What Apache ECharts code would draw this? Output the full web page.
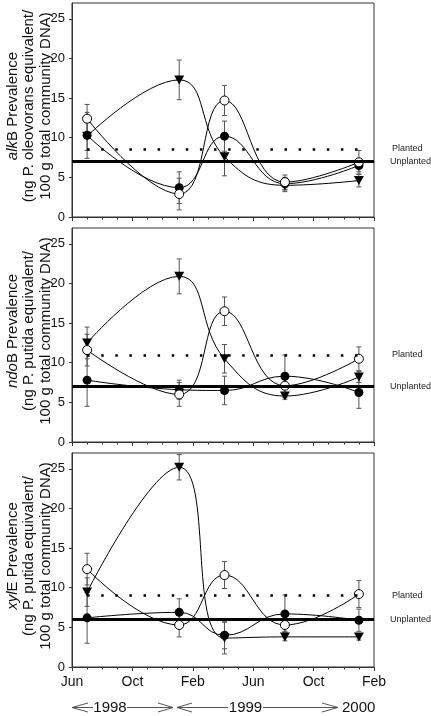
<!DOCTYPE html>
<html>
<head>
<meta charset="utf-8">
<script src="https://cdn.jsdelivr.net/npm/echarts@6/dist/echarts.min.js"></script>
<style>html,body{margin:0;padding:0;background:#fff}#c{width:431px;height:716px}</style>
</head>
<body>
<div id="c"></div>
<script>
// x positions: months since June 1998
const months = [1.0, 7.1, 10.1, 14.1, 19.0];
const xTickLabels = ['Jun', 'Oct', 'Feb', 'Jun', 'Oct', 'Feb'];
const yTickValues = [0, 5, 10, 15, 20, 25];

// Panel 1: alkB
const alkOpen = [12.4, 2.9, 14.7, 4.4, 6.9];
const alkOpenErr = [1.8, 2.0, 1.9, 0.9, 1.5];
const alkFilled = [10.3, 3.7, 10.2, 4.2, 6.5];
const alkFilledErr = [2.9, 2.0, 1.9, 0.8, 0.8];
const alkTri = [10.2, 17.3, 7.6, 4.0, 4.6];
const alkTriErr = [1.8, 2.5, 2.4, 0.8, 0.8];
const alkPlanted = 8.6, alkUnplanted = 7.0;

// Panel 2: ndoB
const ndoOpen = [11.6, 6.0, 16.5, 7.1, 10.5];
const ndoOpenErr = [2.0, 1.5, 1.8, 1.0, 1.5];
const ndoFilled = [7.8, 6.6, 6.5, 8.3, 6.25];
const ndoFilledErr = [3.3, 1.2, 1.8, 2.7, 2.0];
const ndoTri = [12.5, 20.9, 10.5, 5.8, 8.2];
const ndoTriErr = [2.0, 2.2, 1.8, 0.4, 0.7];
const ndoPlanted = 11.0, ndoUnplanted = 7.0;

// Panel 3: xylE
const xylOpen = [12.35, 5.3, 11.6, 5.3, 9.2];
const xylOpenErr = [2.0, 1.5, 1.7, 0.8, 1.7];
const xylFilled = [6.2, 6.9, 4.0, 6.7, 5.9];
const xylFilledErr = [3.2, 1.7, 1.7, 2.4, 1.4];
const xylTri = [9.45, 25.2, 3.65, 3.8, 3.8];
const xylTriErr = [1.8, 1.6, 2.0, 0.5, 0.4];
const xylPlanted = 9.0, xylUnplanted = 6.0;

const yNames = [
  '{i|alk}{n|B Prevalence}\n{n|(ng P. oleovorans equivalent/}\n{n|100 g total community DNA)}',
  '{i|ndo}{n|B Prevalence}\n{n|(ng P. putida equivalent/}\n{n|100 g total community DNA)}',
  '{i|xyl}{n|E Prevalence}\n{n|(ng P. putida equivalent/}\n{n|100 g total community DNA)}'
];

const FONT = '"Liberation Sans", Arial, sans-serif';
const panels = [
  {open: alkOpen, openErr: alkOpenErr, filled: alkFilled, filledErr: alkFilledErr, tri: alkTri, triErr: alkTriErr, planted: alkPlanted, unplanted: alkUnplanted},
  {open: ndoOpen, openErr: ndoOpenErr, filled: ndoFilled, filledErr: ndoFilledErr, tri: ndoTri, triErr: ndoTriErr, planted: ndoPlanted, unplanted: ndoUnplanted},
  {open: xylOpen, openErr: xylOpenErr, filled: xylFilled, filledErr: xylFilledErr, tri: xylTri, triErr: xylTriErr, planted: xylPlanted, unplanted: xylUnplanted}
];
const gridTops = [3, 228, 453];

const grids = [], xAxes = [], yAxes = [], series = [];
panels.forEach((p, gi) => {
  grids.push({left: 72, right: 57, top: gridTops[gi], height: 214, show: true, borderColor: '#333', borderWidth: 1,
    backgroundColor: 'transparent', containLabel: false, outerBoundsMode: 'none'});
  xAxes.push({
    type: 'value', gridIndex: gi, min: 0, max: 20, interval: 4,
    axisLine: {show: true, lineStyle: {color: '#333', width: 1}},
    axisTick: {show: true, length: 4, lineStyle: {color: '#333'}},
    minorTick: {show: true, splitNumber: 4, length: 2.5, lineStyle: {color: '#333'}},
    splitLine: {show: false},
    axisLabel: {show: gi === 2, margin: 8, fontSize: 14, color: '#111', fontFamily: FONT,
      formatter: v => xTickLabels[Math.round(v / 4)] || ''}
  });
  yAxes.push({
    type: 'value', gridIndex: gi, min: 0, max: 27, interval: 5,
    axisLine: {show: true, lineStyle: {color: '#333', width: 1}},
    axisTick: {show: true, length: 3, customValues: yTickValues, lineStyle: {color: '#333'}},
    splitLine: {show: false},
    axisLabel: {margin: 7, fontSize: 13, color: '#111', fontFamily: FONT, customValues: yTickValues},
    name: yNames[gi], nameLocation: 'middle', nameRotate: 90, nameGap: 18, nameMoveOverlap: false,
    nameTextStyle: {fontSize: 15, lineHeight: 16.5, color: '#111', fontFamily: FONT, padding: [0, 0, 0, 8],
      rich: {i: {fontStyle: 'italic', fontSize: 15, lineHeight: 16.5, fontFamily: FONT, color: '#111'},
             n: {fontSize: 15, lineHeight: 16.5, fontFamily: FONT, color: '#111'}}}
  });

  const errSeries = (vals, errs) => ({
    type: 'custom', xAxisIndex: gi, yAxisIndex: gi, silent: true, z: 2, clip: true,
    data: vals.map((v, i) => [months[i], v - errs[i], v + errs[i]]),
    encode: {x: 0, y: [1, 2]},
    renderItem: (params, api) => {
      const x = api.value(0);
      const lo = api.coord([x, api.value(1)]);
      const hi = api.coord([x, api.value(2)]);
      const w = 2.5;
      const st = {stroke: '#555', lineWidth: 1};
      return {type: 'group', children: [
        {type: 'line', shape: {x1: lo[0], y1: lo[1], x2: hi[0], y2: hi[1]}, style: st},
        {type: 'line', shape: {x1: lo[0] - w, y1: lo[1], x2: lo[0] + w, y2: lo[1]}, style: st},
        {type: 'line', shape: {x1: hi[0] - w, y1: hi[1], x2: hi[0] + w, y2: hi[1]}, style: st}
      ]};
    }
  });
  series.push(errSeries(p.tri, p.triErr));
  series.push(errSeries(p.filled, p.filledErr));
  series.push(errSeries(p.open, p.openErr));

  const lineBase = {type: 'line', xAxisIndex: gi, yAxisIndex: gi, smooth: 0.45, silent: true,
    lineStyle: {color: '#000', width: 1}, z: 3, animation: false};
  series.push(Object.assign({}, lineBase, {
    name: 'tri' + gi, data: months.map((m, i) => [m, p.tri[i]]),
    symbol: 'triangle', symbolRotate: 180, symbolSize: [10, 9], itemStyle: {color: '#000'}
  }));
  series.push(Object.assign({}, lineBase, {
    name: 'filled' + gi, data: months.map((m, i) => [m, p.filled[i]]),
    symbol: 'circle', symbolSize: 9, itemStyle: {color: '#000'}
  }));
  series.push(Object.assign({}, lineBase, {
    name: 'open' + gi, data: months.map((m, i) => [m, p.open[i]]),
    symbol: 'circle', symbolSize: 9, itemStyle: {color: '#fff', borderColor: '#000', borderWidth: 1},
    markLine: {
      silent: true, symbol: 'none', animation: false,
      data: [
        [{coord: [1.0, p.planted], lineStyle: {type: [2.5, 11.6], width: 2.5, color: '#000', cap: 'butt'},
          label: {show: true, formatter: 'Planted', position: 'end', distance: 24, fontSize: 9, color: '#222', fontFamily: FONT}},
         {coord: [19.6, p.planted]}],
        {yAxis: p.unplanted, lineStyle: {type: 'solid', width: 3, color: '#000'},
          label: {show: true, formatter: 'Unplanted', position: 'end', distance: 16, fontSize: 9, color: '#222', fontFamily: FONT}}
      ]
    }
  }));
});

const lc = '#555';
const arrowY = 707.5;
const graphic = [
  {type: 'polyline', shape: {points: [[88, arrowY - 4.5], [72, arrowY], [88, arrowY + 4.5]]}, style: {stroke: lc, fill: null, lineWidth: 1}},
  {type: 'line', shape: {x1: 72, y1: arrowY, x2: 93, y2: arrowY}, style: {stroke: lc, lineWidth: 1}},
  {type: 'line', shape: {x1: 127, y1: arrowY, x2: 173, y2: arrowY}, style: {stroke: lc, lineWidth: 1}},
  {type: 'polyline', shape: {points: [[158, arrowY - 4.5], [173, arrowY], [158, arrowY + 4.5]]}, style: {stroke: lc, fill: null, lineWidth: 1}},
  {type: 'polyline', shape: {points: [[192, arrowY - 4.5], [177, arrowY], [192, arrowY + 4.5]]}, style: {stroke: lc, fill: null, lineWidth: 1}},
  {type: 'line', shape: {x1: 177, y1: arrowY, x2: 228, y2: arrowY}, style: {stroke: lc, lineWidth: 1}},
  {type: 'line', shape: {x1: 263, y1: arrowY, x2: 338, y2: arrowY}, style: {stroke: lc, lineWidth: 1}},
  {type: 'polyline', shape: {points: [[322, arrowY - 4.5], [338, arrowY], [322, arrowY + 4.5]]}, style: {stroke: lc, fill: null, lineWidth: 1}},
  {type: 'text', x: 110, y: arrowY, style: {text: '1998', fontSize: 15, fontFamily: FONT, fill: '#111', align: 'center', verticalAlign: 'middle'}},
  {type: 'text', x: 245.5, y: arrowY, style: {text: '1999', fontSize: 15, fontFamily: FONT, fill: '#111', align: 'center', verticalAlign: 'middle'}},
  {type: 'text', x: 342, y: arrowY, style: {text: '2000', fontSize: 15, fontFamily: FONT, fill: '#111', align: 'left', verticalAlign: 'middle'}}
];

const chart = echarts.init(document.getElementById('c'), null, {renderer: 'canvas'});
chart.setOption({
  animation: false,
  backgroundColor: '#fff',
  grid: grids, xAxis: xAxes, yAxis: yAxes, series: series, graphic: graphic
});
</script>
</body>
</html>
